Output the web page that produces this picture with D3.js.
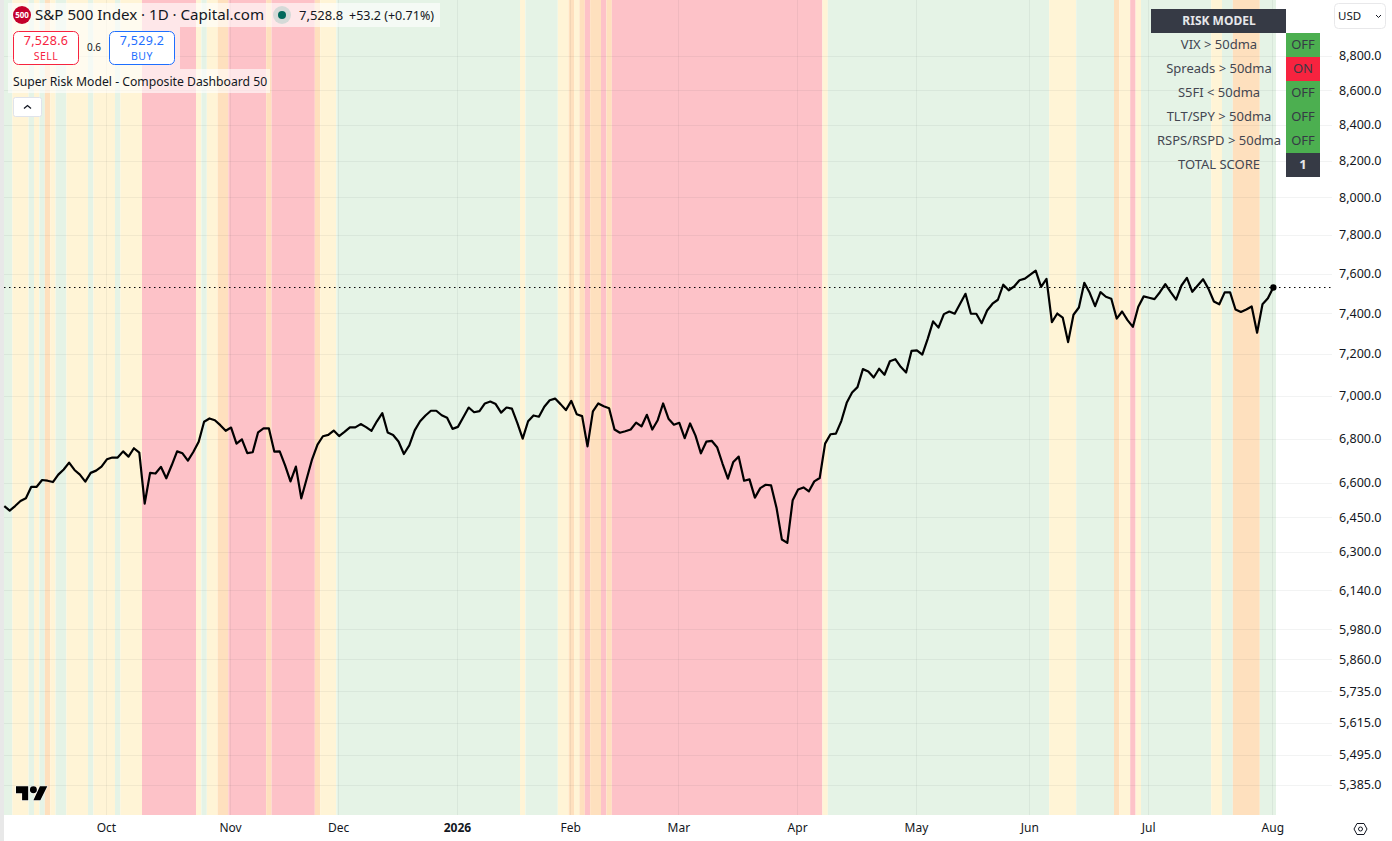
<!DOCTYPE html>
<html>
<head>
<meta charset="utf-8">
<script src="https://cdn.jsdelivr.net/npm/d3@7"></script>
<style>
  html, body { margin: 0; padding: 0; background: #fff; overflow: hidden; }
  text { font-family: "Noto Sans", sans-serif; }
</style>
</head>
<body>
<div id="chart"></div>
<script>
// S&P 500 daily closes
var closes = [
  6498,6478,6498,6520,6532,6583,6583,6613,6610,6604,6637,6660,6691,6658,6637,6606,
  6645,6655,6673,6706,6714,6714,6742,6718,6756,6736,6509,6645,6642,6672,6621,6679,
  6742,6733,6700,6739,6786,6878,6893,6885,6862,6836,6851,6777,6797,6734,6738,6829,
  6847,6847,6741,6742,6679,6607,6673,6532,6619,6706,6773,6811,6817,6837,6812,6831,
  6852,6852,6867,6853,6836,6880,6918,6828,6817,6787,6730,6769,6838,6880,6907,6929,
  6929,6908,6896,6845,6854,6899,6944,6922,6927,6963,6972,6960,6920,6944,6939,6873,
  6800,6880,6907,6901,6948,6978,6986,6960,6932,6975,6913,6904,6765,6926,6963,6950,
  6941,6842,6827,6834,6842,6874,6856,6910,6842,6885,6963,6892,6864,6873,6802,6870,
  6814,6733,6786,6790,6761,6687,6619,6694,6718,6610,6616,6535,6577,6592,6589,6491,
  6353,6339,6524,6571,6580,6563,6607,6622,6777,6820,6823,6881,6966,7015,7040,7126,
  7115,7086,7128,7099,7164,7174,7137,7110,7214,7217,7196,7273,7359,7328,7395,7408,
  7397,7447,7497,7397,7397,7350,7413,7447,7467,7543,7515,7534,7566,7574,7594,7615,
  7532,7573,7355,7398,7378,7257,7392,7428,7553,7502,7435,7505,7482,7472,7373,7408,
  7365,7332,7432,7484,7477,7470,7505,7546,7505,7468,7539,7578,7507,7539,7571,7522,
  7458,7444,7504,7504,7418,7406,7418,7433,7303,7444,7474,7529
];
var lastPrice = 7528.8;

// background regime runs: state + number of bars
var runStates = ["g","y","g","y","g","o","y","g","y","g","y","g","y","r","y","g","y","o","r","o","r","o","y",
                 "g","y","g","y","o","y","o","r","o","r","o","r","y","g","y","g","o","y","r","y","g","y","g","o","g"];
var runLengths = [2,3,1,1,1,1,1,2,4,1,4,1,4,10,1,1,2,2,7,1,8,1,3,
                  34,1,6,2,1,1,1,1,2,1,1,39,1,41,5,7,1,2,1,1,13,2,2,5,3];
var stateColors = {g: "#e5f3e6", y: "#fff4d6", o: "#fee0be", r: "#fdc2c8"};

var priceTicks = [8800,8600,8400,8200,8000,7800,7600,7400,7200,7000,6800,6600,6450,6300,6140,5980,5860,5735,5615,5495,5385];
var monthLabels = ["Oct","Nov","Dec","2026","Feb","Mar","Apr","May","Jun","Jul","Aug"];
var monthBars = [19,42,62,84,105,125,147,169,190,212,235];

var riskLabels = ["VIX > 50dma","Spreads > 50dma","S5FI < 50dma","TLT/SPY > 50dma","RSPS/RSPD > 50dma"];
var riskStates = ["OFF","ON","OFF","OFF","OFF"];
var totalScore = 1;

var width = 1392, height = 841;
var plotLeft = 4, plotRight = 1332, plotBottom = 815;

var svg = d3.select("#chart").append("svg")
  .attr("width", width)
  .attr("height", height)
  .style("display", "block");

var x = d3.scaleLinear().domain([0, closes.length - 1]).range([4.3, 1273.3]);
var y = d3.scaleLog().domain([5277, 9138]).range([plotBottom, 0]);

// regime bands
var runs = [], start = 0;
runStates.forEach(function(s, i) {
  runs.push({state: s, from: start, to: start + runLengths[i]});
  start += runLengths[i];
});

svg.append("g").selectAll("rect")
  .data(runs)
  .enter()
  .append("rect")
  .attr("x", function(d) { return x(d.from - 0.5); })
  .attr("width", function(d) { return x(d.to - 0.5) - x(d.from - 0.5); })
  .attr("y", 0)
  .attr("height", plotBottom)
  .attr("fill", function(d) { return stateColors[d.state]; });

// grid
var gridColor = "rgba(42,46,57,0.06)";
svg.append("g").selectAll("line")
  .data(priceTicks)
  .enter()
  .append("line")
  .attr("x1", plotLeft).attr("x2", plotRight)
  .attr("y1", function(d) { return Math.round(y(d)) + 0.5; })
  .attr("y2", function(d) { return Math.round(y(d)) + 0.5; })
  .attr("stroke", gridColor);

svg.append("g").selectAll("line")
  .data(monthBars)
  .enter()
  .append("line")
  .attr("x1", function(d) { return Math.round(x(d)) - 0.5; })
  .attr("x2", function(d) { return Math.round(x(d)) - 0.5; })
  .attr("y1", 0).attr("y2", plotBottom)
  .attr("stroke", gridColor);

// left strip of the page
svg.append("rect").attr("x", 0).attr("y", 0).attr("width", plotLeft).attr("height", height).attr("fill", "#e8e8e8");

// last price line
svg.append("line")
  .attr("x1", plotLeft).attr("x2", plotRight)
  .attr("y1", y(lastPrice)).attr("y2", y(lastPrice))
  .attr("stroke", "#000")
  .attr("stroke-dasharray", "1.5 3.5");

// price line
var line = d3.line()
  .x(function(d, i) { return x(i); })
  .y(function(d) { return y(d); });

svg.append("path")
  .datum(closes)
  .attr("d", line)
  .attr("fill", "none")
  .attr("stroke", "#000")
  .attr("stroke-width", 2.2)
  .attr("stroke-linejoin", "round");

svg.append("circle")
  .attr("cx", x(closes.length - 1))
  .attr("cy", y(closes[closes.length - 1]))
  .attr("r", 3.2)
  .attr("fill", "#000");

// axes
var yAxis = d3.axisRight(y).tickValues(priceTicks).tickFormat(d3.format(",.1f")).tickSize(0).tickPadding(7);
var yG = svg.append("g").attr("transform", "translate(" + plotRight + ",0)").call(yAxis);
yG.select(".domain").remove();
yG.selectAll("text").style("font-size", "12.5px").attr("fill", "#131722");

var xAxis = d3.axisBottom(x).tickValues(monthBars)
  .tickFormat(function(d, i) { return monthLabels[i]; }).tickSize(0).tickPadding(8);
var xG = svg.append("g").attr("transform", "translate(-1," + plotBottom + ")").call(xAxis);
xG.select(".domain").remove();
xG.selectAll("text")
  .style("font-size", "12px")
  .style("font-weight", function(d, i) { return monthLabels[i] == "2026" ? "bold" : "normal"; })
  .attr("fill", "#131722");

// settings icon
svg.append("path")
  .attr("d", "M1354 829l3-5.5h7l3 5.5-3 5.5h-7z")
  .attr("fill", "none").attr("stroke", "#131722");
svg.append("circle").attr("cx", 1360.5).attr("cy", 829).attr("r", 2)
  .attr("fill", "none").attr("stroke", "#131722");

// currency button
svg.append("rect").attr("x", 1334.5).attr("y", 3.5).attr("width", 51).attr("height", 25).attr("rx", 4)
  .attr("fill", "#fff").attr("stroke", "#e8e8ea");
svg.append("text").attr("x", 1338).attr("y", 20).style("font-size", "11.5px").attr("fill", "#131722").text("USD");
svg.append("path").attr("d", "M1376 15l2.5 2.5 2.5-2.5").attr("fill", "none").attr("stroke", "#131722");

// risk table
var table = svg.append("g");
table.append("rect").attr("x", 1151).attr("y", 9).attr("width", 135).attr("height", 24).attr("fill", "#363a45");
table.append("text").attr("x", 1219).attr("y", 25).attr("text-anchor", "middle")
  .style("font-size", "12px").style("font-weight", "bold").attr("fill", "#e6e7ea").text("RISK MODEL");

var rows = riskLabels.map(function(l, i) { return {label: l, state: riskStates[i]}; });
var row = table.selectAll("g.row")
  .data(rows)
  .enter()
  .append("g")
  .attr("class", "row")
  .attr("transform", function(d, i) { return "translate(0," + (33 + i * 24) + ")"; });

row.append("text").attr("x", 1219).attr("y", 16).attr("text-anchor", "middle")
  .style("font-size", "13px").attr("fill", "#434651")
  .text(function(d) { return d.label; });
row.append("rect").attr("x", 1286).attr("width", 34).attr("height", 24)
  .attr("fill", function(d) { return d.state == "ON" ? "#f7233f" : "#4caf50"; });
row.append("text").attr("x", 1303).attr("y", 16).attr("text-anchor", "middle")
  .style("font-size", "13px").attr("fill", "#363a45")
  .text(function(d) { return d.state; });

table.append("text").attr("x", 1219).attr("y", 169).attr("text-anchor", "middle")
  .style("font-size", "13px").attr("fill", "#434651").text("TOTAL SCORE");
table.append("rect").attr("x", 1286).attr("y", 153).attr("width", 34).attr("height", 24).attr("fill", "#363a45");
table.append("text").attr("x", 1303).attr("y", 169).attr("text-anchor", "middle")
  .style("font-size", "13px").style("font-weight", "bold").attr("fill", "#e6e7ea").text(totalScore);

// legend panels
var veil = "rgba(255,255,255,0.6)";
svg.append("rect").attr("x", 8).attr("y", 3).attr("width", 432).attr("height", 24).attr("fill", veil);
svg.append("rect").attr("x", 8).attr("y", 27).attr("width", 172).attr("height", 42).attr("fill", veil);
svg.append("rect").attr("x", 8).attr("y", 69).attr("width", 262).attr("height", 24).attr("fill", veil);

svg.append("circle").attr("cx", 22).attr("cy", 15).attr("r", 9).attr("fill", "#c4002b");
svg.append("text").attr("x", 22).attr("y", 18).attr("text-anchor", "middle")
  .style("font-size", "8px").style("font-weight", "bold").attr("fill", "#fff").text("500");
svg.append("text").attr("x", 35).attr("y", 20).style("font-size", "15.1px").attr("fill", "#131722")
  .text("S&P 500 Index · 1D · Capital.com");

svg.append("circle").attr("cx", 282).attr("cy", 15).attr("r", 9).attr("fill", "#d5dad8");
svg.append("circle").attr("cx", 282).attr("cy", 15).attr("r", 4).attr("fill", "#00695c");
svg.append("text").attr("x", 299).attr("y", 20).style("font-size", "13px").attr("fill", "#131722").text("7,528.8");
svg.append("text").attr("x", 349).attr("y", 20).style("font-size", "12.5px").attr("fill", "#131722").text("+53.2 (+0.71%)");

function quote(xPos, color, price, label) {
  svg.append("rect").attr("x", xPos + 0.5).attr("y", 31.5).attr("width", 65).attr("height", 33).attr("rx", 5)
    .attr("fill", "#fff").attr("stroke", color);
  svg.append("text").attr("x", xPos + 33).attr("y", 45).attr("text-anchor", "middle")
    .style("font-size", "12.5px").style("letter-spacing", "0.3px").attr("fill", color).text(price);
  svg.append("text").attr("x", xPos + 33).attr("y", 60).attr("text-anchor", "middle")
    .style("font-size", "10.5px").style("letter-spacing", "0.5px").attr("fill", color).text(label);
}
quote(13, "#f7233f", "7,528.6", "SELL");
quote(109, "#1e6fff", "7,529.2", "BUY");
svg.append("text").attr("x", 94).attr("y", 51).attr("text-anchor", "middle")
  .style("font-size", "10px").attr("fill", "#131722").text("0.6");

svg.append("text").attr("x", 13).attr("y", 86).style("font-size", "12.2px").attr("fill", "#131722")
  .text("Super Risk Model - Composite Dashboard 50");

svg.append("rect").attr("x", 13.5).attr("y", 97.5).attr("width", 28).attr("height", 19).attr("rx", 2)
  .attr("fill", "#fff").attr("stroke", "#e0e3eb");
svg.append("path").attr("d", "M24 108.5l3.5-3 3.5 3").attr("fill", "none").attr("stroke", "#131722").attr("stroke-width", 1.3);

// watermark
svg.append("path")
  .attr("transform", "translate(16,781) scale(0.87)")
  .attr("d", "M14 6H0v8h7v8h7V6Zm14 16h-8l7.5-16H36l-8 16Z M20 6a4 4 0 1 1 0 8a4 4 0 1 1 0-8Z")
  .attr("fill", "#000").attr("stroke", "#fff").attr("stroke-width", 1.2).attr("paint-order", "stroke");
</script>
</body>
</html>
